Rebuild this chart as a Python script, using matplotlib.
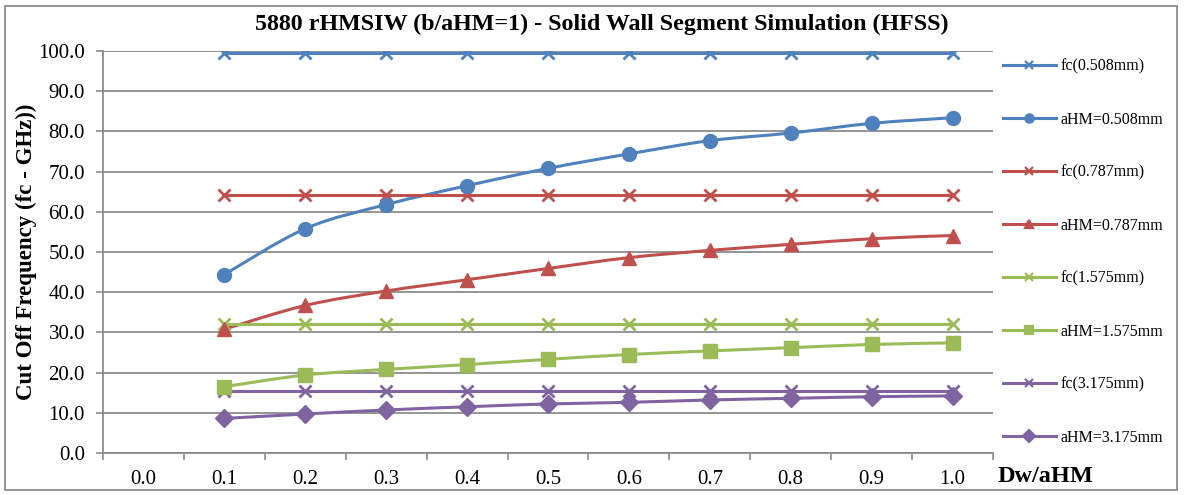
import matplotlib
matplotlib.use("Agg")
import matplotlib.pyplot as plt
from matplotlib.path import Path
from matplotlib.patches import PathPatch, Rectangle
from matplotlib.lines import Line2D
import numpy as np

plt.rcParams['font.family'] = ['Liberation Serif', 'DejaVu Serif']

categories = ["0.0", "0.1", "0.2", "0.3", "0.4", "0.5", "0.6", "0.7", "0.8", "0.9", "1.0"]
dw_idx = [1, 2, 3, 4, 5, 6, 7, 8, 9, 10]  # data starts at Dw/aHM = 0.1

fc_0508 = [99.5] * 10
ahm_0508 = [44.4, 55.8, 61.8, 66.5, 70.8, 74.4, 77.7, 79.6, 82.0, 83.4]
fc_0787 = [64.2] * 10
ahm_0787 = [30.8, 36.7, 40.3, 43.1, 45.9, 48.6, 50.4, 51.9, 53.3, 54.1]
fc_1575 = [32.0] * 10
ahm_1575 = [16.5, 19.4, 20.8, 22.0, 23.3, 24.5, 25.4, 26.2, 27.0, 27.4]
fc_3175 = [15.4] * 10
ahm_3175 = [8.6, 9.7, 10.7, 11.5, 12.2, 12.6, 13.2, 13.6, 14.0, 14.2]

BLUE, RED, GREEN, PURPLE = "#4F81BD", "#C0504D", "#9BBB59", "#8064A2"
GRID = "#8C8C8C"

series = [
    ("fc(0.508mm)", fc_0508, BLUE, "x", False),
    ("aHM=0.508mm", ahm_0508, BLUE, "o", True),
    ("fc(0.787mm)", fc_0787, RED, "x", False),
    ("aHM=0.787mm", ahm_0787, RED, "^", True),
    ("fc(1.575mm)", fc_1575, GREEN, "x", False),
    ("aHM=1.575mm", ahm_1575, GREEN, "s", True),
    ("fc(3.175mm)", fc_3175, PURPLE, "x", False),
    ("aHM=3.175mm", ahm_3175, PURPLE, "D", True),
]
marker_sizes = {"x": 9, "o": 10, "^": 10, "s": 10.5, "D": 9.5}


def smooth_path(xs, ys, tension=1.0 / 6):
    """Catmull-Rom style cubic Bezier path through the points (smoothed line)."""
    pts = np.column_stack([xs, ys]).astype(float)
    verts = [tuple(pts[0])]
    codes = [Path.MOVETO]
    n = len(pts)
    for i in range(n - 1):
        p0 = pts[i - 1] if i > 0 else pts[i]
        p1 = pts[i]
        p2 = pts[i + 1]
        p3 = pts[i + 2] if i + 2 < n else pts[i + 1]
        c1 = p1 + (p2 - p0) * tension
        c2 = p2 - (p3 - p1) * tension
        verts += [tuple(c1), tuple(c2), tuple(p2)]
        codes += [Path.CURVE4] * 3
    return Path(verts, codes)


fig = plt.figure(figsize=(11.86, 4.95), dpi=100)
W, H = 1186, 495
ax = fig.add_axes([103 / W, (H - 453) / H, (993 - 103) / W, (453 - 51) / H])

handles = []
for label, vals, color, mk, smooth in series:
    ms = marker_sizes[mk]
    if smooth:
        ax.add_patch(PathPatch(smooth_path(dw_idx, vals), facecolor="none",
                               edgecolor=color, lw=2.2, zorder=3))
        ax.plot(dw_idx, vals, ls="none", marker=mk, ms=ms, color=color,
                mec=color, zorder=4)
    else:
        ax.plot(dw_idx, vals, ls="-", lw=2.2, color=color, marker=mk, ms=ms,
                mew=2.0, zorder=3)
    handles.append(Line2D([], [], color=color, lw=2.2, marker=mk,
                          ms=ms * 0.6, mew=1.6, label=label))

ax.set_xlim(-0.5, 10.5)
ax.set_ylim(0, 100)

# y axis
ax.set_yticks(np.arange(0, 101, 10))
ax.set_yticklabels([f"{v:.1f}" for v in np.arange(0, 101, 10)], fontsize=15)
ax.yaxis.grid(True, color=GRID, lw=1.3)
ax.set_axisbelow(True)

# x axis: tick marks between categories, labels at the centres
ax.set_xticks(np.arange(-0.5, 10.6, 1.0))
ax.set_xticklabels([])
ax.set_xticks(np.arange(0, 11), minor=True)
ax.set_xticklabels(categories, minor=True, fontsize=15)
ax.tick_params(axis="x", which="minor", length=0, pad=12)
ax.tick_params(axis="x", which="major", length=5, width=1.2, color=GRID,
               direction="out")
ax.tick_params(axis="y", length=5, width=1.2, color=GRID, direction="out",
               pad=8)

for side in ("top", "right"):
    ax.spines[side].set_visible(False)
for side in ("left", "bottom"):
    ax.spines[side].set_color(GRID)
    ax.spines[side].set_linewidth(1.3)

fig.text(26 / W, 1 - 252 / H, "Cut Off Frequency (fc - GHz))", fontsize=16.5,
         fontweight="bold", rotation=90, ha="center", va="center")
fig.text(1045 / W, 1 - 477 / H, "Dw/aHM", fontsize=17.5, fontweight="bold",
         ha="center", va="center")
fig.text(602 / W, 1 - 24 / H,
         "5880 rHMSIW (b/aHM=1) - Solid Wall Segment Simulation (HFSS)",
         fontsize=17.3, fontweight="bold", ha="center", va="center")

fig.legend(handles=handles, loc="upper left",
           bbox_to_anchor=(1003 / W, 1 - 58.5 / H), frameon=False, fontsize=11.5,
           handlelength=3.3, handletextpad=0.3, labelspacing=2.32,
           borderpad=0, borderaxespad=0)

# chart area border
fig.patches.append(Rectangle((5 / W, (H - 490) / H), (1177 - 5) / W, (490 - 6) / H,
                             transform=fig.transFigure, fill=False,
                             edgecolor=GRID, lw=1.3))

fig.savefig("out.png", dpi=100)
